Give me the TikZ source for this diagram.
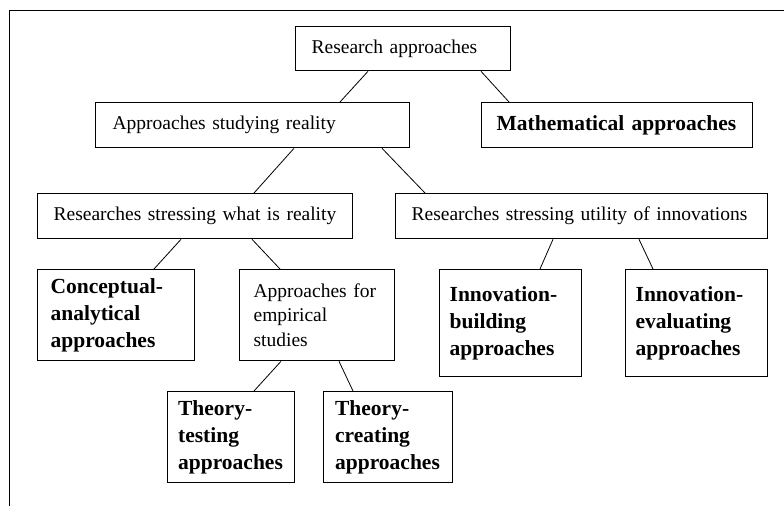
\documentclass[tikz,border=0pt]{standalone}
\usepackage{fontspec}
\setmainfont{Liberation Serif}
\usetikzlibrary{calc}

\begin{document}
\begin{tikzpicture}[x=1pt, y=-1pt,
  box/.style={draw, line width=1.3pt, anchor=north west, inner ysep=0pt, align=left},
  plain/.style={font=\fontsize{19.5}{24.5}\selectfont},
  strong/.style={font=\fontsize{21.5}{27}\selectfont\bfseries},
  link/.style={line width=0.8pt}]

  \useasboundingbox (0,0) rectangle (784,506);

  % frame edges
  \draw[line width=1pt] (9,506) -- (9,10) -- (784,10);

  % level 0 and 1
  \node[box, plain, minimum width=215pt, minimum height=44pt, inner xsep=16pt, text width=183pt] (root) at (295,26) {Research approaches};
  \node[box, plain, minimum width=314pt, minimum height=45pt, inner xsep=17pt, text width=280pt] (real) at (95,102) {Approaches studying reality};
  \node[box, strong, minimum width=271pt, minimum height=45pt, inner xsep=15pt, text width=241pt] (math) at (481,102) {Mathematical approaches};

  % level 2
  \node[box, plain, minimum width=315pt, minimum height=45pt, inner xsep=16pt, text width=283pt] (what) at (37,193) {Researches stressing what is reality};
  \node[box, plain, minimum width=372pt, minimum height=45pt, inner xsep=16pt, text width=340pt] (util) at (395,193) {Researches stressing utility of innovations};

  % level 3
  \node[box, strong, minimum width=157pt, minimum height=91pt, inner xsep=13pt, text width=131pt] (concept) at (37,269) {Conceptual-\\analytical\\approaches};
  \node[box, plain, minimum width=155pt, minimum height=91pt, inner xsep=14pt, text width=127pt] (emp) at (239,269) {Approaches for\\empirical\\studies};
  \node[box, strong, minimum width=142pt, minimum height=107pt, inner xsep=10pt, text width=122pt] (build) at (439,269) {Innovation-\\building\\approaches};
  \node[box, strong, minimum width=142pt, minimum height=107pt, inner xsep=10pt, text width=122pt] (eval) at (625,269) {Innovation-\\evaluating\\approaches};

  % level 4
  \node[box, strong, minimum width=127pt, minimum height=91pt, inner xsep=10.5pt, text width=106pt] (test) at (167,391) {Theory-\\testing\\approaches};
  \node[box, strong, minimum width=129pt, minimum height=91pt, inner xsep=11.5pt, text width=106pt] (create) at (323,391) {Theory-\\creating\\approaches};

  % connectors
  \draw[link] ([xshift=73pt]root.south west) -- ([xshift=245pt]real.north west);
  \draw[link] ([xshift=186pt]root.south west) -- ([xshift=28pt]math.north west);
  \draw[link] ([xshift=199pt]real.south west) -- ([xshift=217pt]what.north west);
  \draw[link] ([xshift=287pt]real.south west) -- ([xshift=30pt]util.north west);
  \draw[link] ([xshift=144pt]what.south west) -- ([xshift=117pt]concept.north west);
  \draw[link] ([xshift=215pt]what.south west) -- ([xshift=41pt]emp.north west);
  \draw[link] ([xshift=158pt]util.south west) -- ([xshift=101pt]build.north west);
  \draw[link] ([xshift=244pt]util.south west) -- ([xshift=28pt]eval.north west);
  \draw[link] ([xshift=42pt]emp.south west) -- ([xshift=87pt]test.north west);
  \draw[link] ([xshift=100pt]emp.south west) -- ([xshift=30pt]create.north west);
\end{tikzpicture}
\end{document}
